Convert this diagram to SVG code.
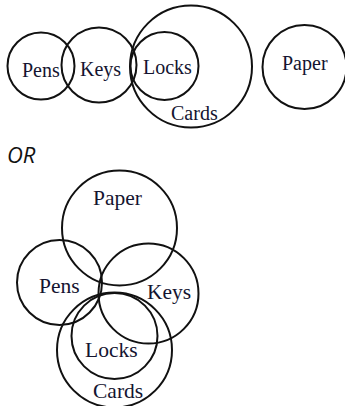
<svg xmlns="http://www.w3.org/2000/svg" width="345" height="406" viewBox="0 0 345 406">
<style>
.c{fill:none;stroke:#111;stroke-width:2}
.t{font-family:"Liberation Serif","Times New Roman",serif;fill:#141430}
.a{font-size:20px}
.b{font-size:21.5px}
.or{font-family:"Open Sans","Noto Sans",sans-serif;font-style:italic;font-size:22px;fill:#111}
</style>
<rect width="345" height="406" fill="#fff"/>
<g id="top">
<g id="top-pens"><circle class="c" cx="41" cy="66" r="33.5"/><text class="t a" x="22" y="77">Pens</text></g>
<g id="top-keys"><circle class="c" cx="99" cy="65" r="37.5"/><text class="t a" x="80" y="76">Keys</text></g>
<g id="top-locks"><circle class="c" cx="164.5" cy="66" r="34"/><text class="t a" x="143" y="74">Locks</text></g>
<g id="top-cards"><circle class="c" cx="191" cy="66.5" r="61"/><text class="t a" x="171" y="120">Cards</text></g>
<g id="top-paper"><circle class="c" cx="304.5" cy="67" r="42"/><text class="t a" x="282" y="70">Paper</text></g>
</g>
<text class="or" x="7" y="163">OR</text>
<g id="bottom">
<g id="bot-paper"><circle class="c" cx="119.5" cy="228" r="57.5"/><text class="t b" x="93" y="205">Paper</text></g>
<g id="bot-pens"><circle class="c" cx="59.5" cy="282.5" r="42.5"/><text class="t b" x="39" y="293">Pens</text></g>
<g id="bot-keys"><circle class="c" cx="148.5" cy="293.5" r="50"/><text class="t b" x="147" y="299">Keys</text></g>
<g id="bot-locks"><circle class="c" cx="114.5" cy="336" r="43"/><text class="t b" x="85" y="357">Locks</text></g>
<g id="bot-cards"><circle class="c" cx="114.5" cy="350" r="57.5"/><text class="t b" x="93" y="398">Cards</text></g>
</g>
<g id="connectors"/>
</svg>
